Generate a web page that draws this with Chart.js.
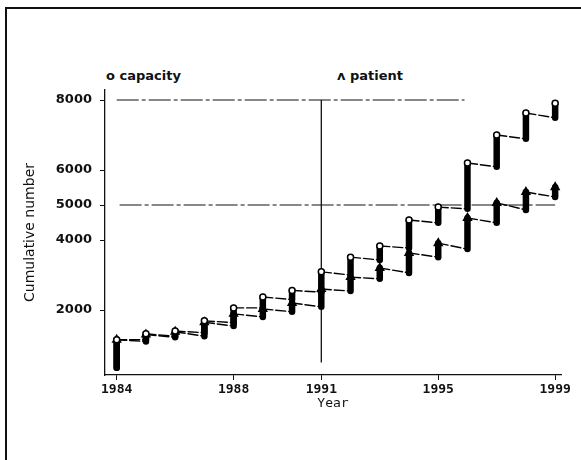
<!DOCTYPE html>
<html>
<head>
<meta charset="utf-8">
<script src="https://cdn.jsdelivr.net/npm/chart.js@4"></script>
<style>
    html, body { margin: 0; padding: 0; background: #fff; overflow: hidden; }
    #wrap { position: relative; width: 581px; height: 460px; overflow: hidden; }
    #frame { position: absolute; left: 5px; top: 7px; width: 640px; height: 520px;
             border-top: 2px solid #111; border-left: 2px solid #111; }
    .key { position: absolute; top: 68px; font: bold 13px "DejaVu Sans", sans-serif; color: #111; }
    canvas { position: absolute; left: 0; top: 0; }
</style>
</head>
<body>
<div id="wrap">
    <div id="frame"></div>
    <div class="key" style="left:106px">o capacity</div>
    <div class="key" style="left:337px">ʌ patient</div>
    <canvas id="chart" width="581" height="460"></canvas>
</div>
<script>
const years = [1984, 1985, 1986, 1987, 1988, 1989, 1990, 1991, 1992, 1993, 1994, 1995, 1996, 1997, 1998, 1999];
// each year is a vertical run of cumulative values, from its lowest to its highest
const capacityLow  = [350, 1150, 1250, 1350, 1640, 2060, 2300, 2510, 3000, 3430, 3770, 4490, 4890, 6090, 6890, 7490];
const capacityHigh = [1150, 1320, 1400, 1690, 2060, 2370, 2560, 3090, 3510, 3830, 4570, 4940, 6200, 7000, 7630, 7910];
const patientLow   = [350, 1100, 1220, 1250, 1540, 1800, 1950, 2090, 2540, 2890, 3060, 3510, 3740, 4490, 4860, 5230];
const patientHigh  = [1150, 1300, 1380, 1650, 1890, 2030, 2200, 2600, 2940, 3200, 3630, 3910, 4630, 5060, 5370, 5510];

const xTicks = [1984, 1988, 1991, 1995, 1999];
const yTicks = [2000, 4000, 5000, 6000, 8000];

// reference lines
const levels = [8000, 5000];
const levelFrom = [1984.0, 1984.1];
const levelTo = [1995.9, 1999.0];
const markYear = 1991;
const markRange = [8000, 500];

function stepData(low, high) {
    const pts = [];
    years.forEach((yr, i) => {
        pts.push({x: yr, y: low[i]});
        pts.push({x: yr, y: high[i]});
    });
    return pts;
}

const sameYear = ctx => ctx.p0.parsed.x === ctx.p1.parsed.x;

function seriesDataset(label, low, high, style, radius, fillColor) {
    return {
        label: label,
        data: stepData(low, high),
        borderColor: '#000',
        borderCapStyle: 'round',
        segment: {
            borderWidth: ctx => sameYear(ctx) ? 6.5 : 1.4,
            borderDash: ctx => sameYear(ctx) ? [] : [10, 3]
        },
        pointStyle: style,
        pointRadius: ctx => ctx.dataIndex % 2 ? radius : 0,
        pointBackgroundColor: fillColor,
        pointBorderColor: '#000',
        pointBorderWidth: 1.5,
        tension: 0,
        fill: false,
        clip: false
    };
}

const refSets = levels.map((lv, i) => ({
    label: 'level ' + lv,
    data: [{x: levelFrom[i], y: lv}, {x: levelTo[i], y: lv}],
    borderColor: '#111',
    borderWidth: 1.2,
    borderDash: [22, 3, 4, 3],
    pointRadius: 0,
    fill: false
}));
refSets.push({
    label: 'mark',
    data: [{x: markYear, y: markRange[0]}, {x: markYear, y: markRange[1]}],
    borderColor: '#111',
    borderWidth: 1.3,
    pointRadius: 0,
    fill: false
});

const ink = '#111';

new Chart(document.getElementById('chart').getContext('2d'), {
    type: 'line',
    data: {
        datasets: [
            seriesDataset('capacity', capacityLow, capacityHigh, 'circle', 3, '#fff'),
            seriesDataset('patient', patientLow, patientHigh, 'triangle', 4.5, '#000'),
            ...refSets
        ]
    },
    options: {
        responsive: false,
        animation: false,
        layout: {padding: {left: 18, top: 90, right: 20, bottom: 45}},
        plugins: {legend: {display: false}, tooltip: {enabled: false}},
        scales: {
            x: {
                type: 'linear',
                min: 1983.6,
                max: 1999.2,
                afterBuildTicks: s => { s.ticks = xTicks.map(v => ({value: v})); },
                afterFit: s => { s.height = 40; s.paddingLeft = 0; s.paddingRight = 0; },
                ticks: {
                    callback: v => String(v),
                    font: {family: 'DejaVu Sans Mono', size: 13, weight: 'bold'},
                    color: ink,
                    padding: 2,
                    maxRotation: 0,
                    autoSkip: false
                },
                grid: {drawOnChartArea: false, tickLength: 5, color: ink},
                border: {color: ink, width: 1.2, dash: [8, 2]},
                title: {
                    display: true,
                    text: 'Year',
                    color: ink,
                    font: {family: 'DejaVu Sans Mono', size: 13},
                    padding: {top: 0, bottom: 4}
                }
            },
            y: {
                type: 'linear',
                min: 143,
                max: 8286,
                afterBuildTicks: s => { s.ticks = yTicks.map(v => ({value: v})); },
                afterFit: s => { s.width = 87; s.paddingTop = 0; s.paddingBottom = 0; },
                ticks: {
                    callback: v => String(v),
                    font: {family: 'DejaVu Sans', size: 13, weight: 'bold'},
                    color: ink,
                    padding: 8
                },
                grid: {drawOnChartArea: false, tickLength: 5, color: ink},
                border: {color: ink, width: 1.3},
                title: {
                    display: true,
                    text: 'Cumulative number',
                    color: ink,
                    font: {family: 'DejaVu Sans', size: 14}
                }
            }
        }
    }
});
</script>
</body>
</html>
